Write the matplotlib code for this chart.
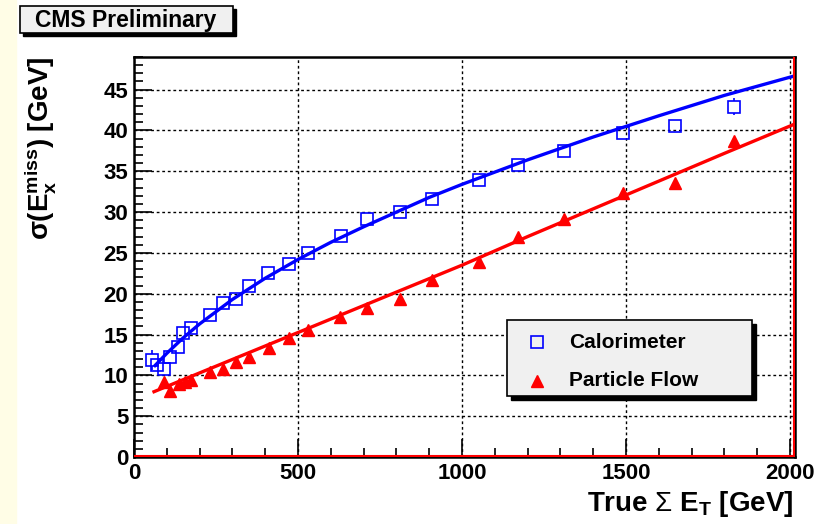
import matplotlib
matplotlib.use('Agg')
import matplotlib.pyplot as plt
from matplotlib.patches import Rectangle
from matplotlib.lines import Line2D
from matplotlib.ticker import MultipleLocator

plt.rcParams['font.family'] = ['Liberation Sans', 'DejaVu Sans']
plt.rcParams['mathtext.fontset'] = 'custom'
plt.rcParams['mathtext.rm'] = 'Liberation Sans'
plt.rcParams['mathtext.bf'] = 'Liberation Sans:bold'
plt.rcParams['mathtext.it'] = 'Liberation Sans:italic'
plt.rcParams['mathtext.default'] = 'regular'

# Calorimeter points
calo_x = [54, 69, 90, 110, 133, 150, 173, 232, 272, 311, 351, 410, 473, 529,
          630, 709, 811, 909, 1052, 1170, 1311, 1490, 1650, 1829]
calo_y = [11.9, 11.3, 10.8, 12.3, 13.5, 15.2, 15.8, 17.4, 18.9, 19.3, 20.9, 22.6,
          23.6, 25.0, 27.1, 29.1, 30.0, 31.6, 33.9, 35.8, 37.5, 39.7, 40.6, 42.9]
calo_err = [1.25, 0.4, 0.4, 0.4, 0.4, 0.4, 0.4, 0.4, 0.4, 0.4, 0.4, 0.4,
            0.4, 0.4, 0.4, 0.4, 0.4, 0.4, 0.4, 0.5, 0.5, 0.6, 0.7, 1.05]

# Particle flow points
pf_x = [90, 110, 136, 155, 173, 232, 272, 311, 351, 412, 474, 530,
        629, 709, 811, 909, 1052, 1170, 1311, 1490, 1650, 1829]
pf_y = [9.2, 8.1, 8.9, 9.2, 9.4, 10.4, 10.8, 11.6, 12.3, 13.4, 14.6, 15.6,
        17.1, 18.3, 19.4, 21.7, 23.9, 26.9, 29.1, 32.3, 33.6, 38.7]
pf_err = [0.3] * 21 + [0.8]

# fitted curves
calo_fit_x = [64, 100, 150, 200, 300, 400, 500, 600, 700, 800, 900, 1000,
              1200, 1400, 1600, 1800, 2015]
calo_fit_y = [11.2, 12.7, 14.6, 16.3, 19.3, 21.9, 24.2, 26.3, 28.2, 30.0, 31.8,
              33.4, 36.4, 39.2, 41.8, 44.3, 46.7]
pf_fit_x = [61, 200, 400, 600, 800, 1000, 1200, 1400, 1600, 1800, 2015]
pf_fit_y = [8.0, 10.3, 13.6, 16.9, 20.2, 23.5, 27.0, 30.4, 33.8, 37.2, 40.8]

W, H = 816, 524
fig = plt.figure(figsize=(W / 100, H / 100), dpi=100)
fig.patches.append(Rectangle((0, 0), 16 / W, 1, transform=fig.transFigure,
                             color='#fffde6', zorder=0))

ax = fig.add_axes([134 / W, 1 - 457 / H, (795 - 134) / W, (457 - 57) / H])
ax.set_xlim(0, 2015)
ax.set_ylim(0, 49)

ax.plot(calo_fit_x, calo_fit_y, color='blue', lw=2.4, zorder=3)
ax.plot(pf_fit_x, pf_fit_y, color='red', lw=2.4, zorder=3)

ax.plot(calo_x, calo_y, ls='none', marker='s', ms=8.5, mfc='none', mec='blue',
        mew=1.2, zorder=4)
ax.plot(pf_x, pf_y, ls='none', marker='^', ms=9, color='red', zorder=4)

# error bars only where they stick out of the marker
half = 0.75
for x, y, e in zip(calo_x, calo_y, calo_err):
    if e > half:
        ax.vlines([x, x], [y + half, y - e], [y + e, y - half], color='blue', lw=1.2, zorder=4)
for x, y, e in zip(pf_x, pf_y, pf_err):
    if e > half:
        ax.vlines([x], [y + half], [y + e], color='red', lw=1.2, zorder=4)

ax.xaxis.set_major_locator(MultipleLocator(500))
ax.xaxis.set_minor_locator(MultipleLocator(100))
ax.yaxis.set_major_locator(MultipleLocator(5))
ax.yaxis.set_minor_locator(MultipleLocator(1))
ax.tick_params(which='both', direction='in', top=False, right=False, width=1.2,
               labelsize=16, pad=4)
ax.tick_params(which='major', length=13)
ax.tick_params(which='minor', length=6.5)
for lab in ax.get_xticklabels() + ax.get_yticklabels():
    lab.set_fontweight('bold')
ax.grid(which='major', color='black', linestyle=(0, (2, 2)), lw=1)
for s in ax.spines.values():
    s.set_linewidth(1.8)

# red frame of the fit function
ax.add_line(Line2D([0, 1], [0.002, 0.002], transform=ax.transAxes, color='red', lw=1.5, zorder=5))
ax.add_line(Line2D([0.998, 0.998], [0, 1], transform=ax.transAxes, color='red', lw=1.5, zorder=5))

fig.text(793 / W, 1 - 511 / H, r'True $\mathrm{\Sigma}$ $\mathbf{E_T}$ [GeV]', ha='right',
         va='baseline', fontsize=20, fontweight='bold')
fig.text(40 / W, 1 - 57 / H, r'$\sigma(\mathbf{E}_\mathbf{x}^\mathbf{miss})$ [GeV]',
         rotation=90, ha='center', va='top', fontsize=20, fontweight='bold')


def box(x0, y0, x1, y1, sh):
    # shadow first, then the gray box on top
    fig.patches.append(Rectangle(((x0 + sh) / W, 1 - (y1 + sh) / H), (x1 - x0) / W,
                                 (y1 - y0) / H, transform=fig.transFigure,
                                 facecolor='black', edgecolor='black', zorder=6))
    fig.patches.append(Rectangle((x0 / W, 1 - y1 / H), (x1 - x0) / W, (y1 - y0) / H,
                                 transform=fig.transFigure, facecolor='#f0f0f0',
                                 edgecolor='black', lw=1.2, zorder=7))


box(20, 6, 233, 33, 3)
fig.text(126 / W, 1 - 20 / H, 'CMS Preliminary', ha='center', va='center',
         fontsize=16.5, fontweight='bold', zorder=8)

# legend
box(507, 320, 752, 396, 4)
fig.add_artist(Line2D([537 / W], [1 - 342 / H], marker='s', ms=8.5, mfc='none',
                      mec='blue', mew=1.2, ls='none', zorder=8))
fig.add_artist(Line2D([537 / W], [1 - 381 / H], marker='^', ms=9, color='red',
                      ls='none', zorder=8))
fig.text(569 / W, 1 - 342 / H, 'Calorimeter', va='center', fontsize=15,
         fontweight='bold', zorder=8)
fig.text(569 / W, 1 - 381 / H, 'Particle Flow', va='center', fontsize=15,
         fontweight='bold', zorder=8)

fig.savefig('out.png', dpi=100)
